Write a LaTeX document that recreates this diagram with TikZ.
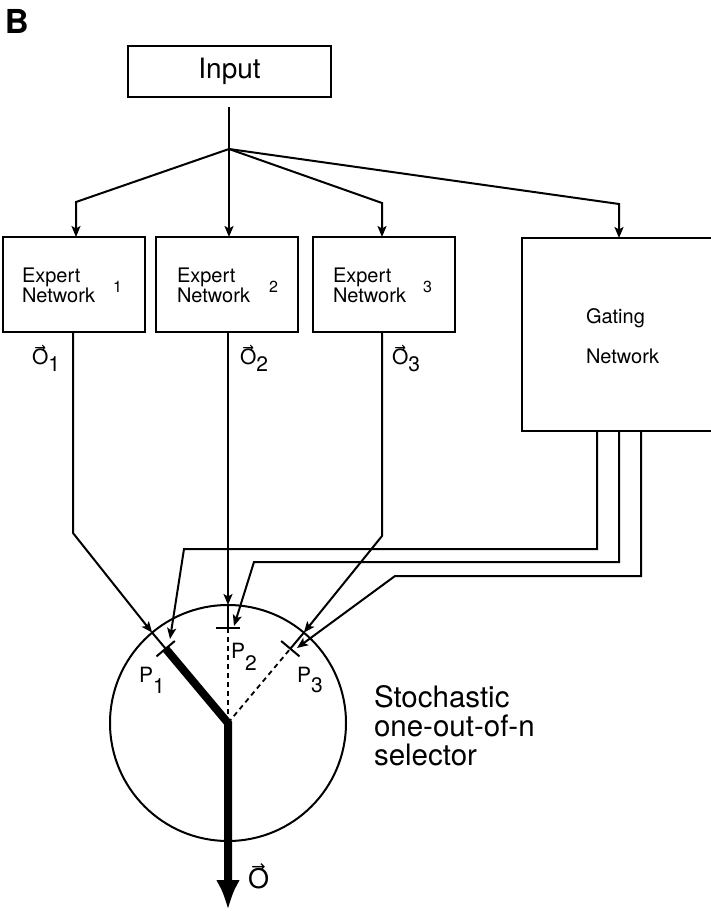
\documentclass[tikz,border=0pt]{standalone}
\usepackage{fontspec}
\setmainfont{TeX Gyre Heros}
\newfontfamily\arrowfont{DejaVu Sans}
\usetikzlibrary{arrows.meta,calc}
% vector O: #1 = size of the arrow glyph, #2 = kern between arrow and O
\newcommand{\vecO}[2]{\leavevmode\vbox{\offinterlineskip\halign{\hfil##\hfil\cr
  {\arrowfont\fontsize{#1}{#1}\selectfont\char"2192}\cr\noalign{\kern#2}O\cr}}}
\tikzset{
  box/.style={draw, line width=2.6pt, rectangle, inner sep=0pt, outer sep=0pt},
  wire/.style={line width=2pt, line join=miter},
  arr/.style={wire, -{Stealth[length=11pt,width=9pt,inset=2.5pt]}},
  lbl/.style={inner sep=0pt, outer sep=0pt, anchor=base west},
  txt/.style={inner sep=0pt, outer sep=0pt, anchor=north west, align=left, font=\fontsize{20pt}{20pt}\selectfont},
  numl/.style={lbl, font=\fontsize{16pt}{16pt}\selectfont},
  olbl/.style={lbl, font=\fontsize{21pt}{21pt}\selectfont},
  plbl/.style={lbl, font=\fontsize{21pt}{21pt}\selectfont},
  tickmark/.style={line width=2pt},
  dashline/.style={line width=1.8pt, dash pattern=on 5pt off 4pt},
}
\begin{document}
\begin{tikzpicture}[x=1pt,y=-1pt]
\useasboundingbox (0,0) rectangle (710,912);

% title letter
\node[lbl, font=\bfseries\fontsize{33pt}{33pt}\selectfont] (blabel) at (5,34) {B};

% boxes
\node[box, minimum width=203pt, minimum height=51pt, font=\fontsize{28pt}{28pt}\selectfont] (input) at (229.5,71.5) {Input};
\node[box, minimum width=142pt, minimum height=95pt] (e1) at (74,284.5) {};
\node[box, minimum width=142pt, minimum height=95pt] (e2) at (227,284.5) {};
\node[box, minimum width=142pt, minimum height=95pt] (e3) at (384,284.5) {};
\node[box, minimum width=218pt, minimum height=193pt] (gate) at (631,334.5) {};

% box texts
\node[txt] (e1t) at (22,267.6) {Expert\\Network};
\node[txt] (e2t) at (177,267.6) {Expert\\Network};
\node[txt] (e3t) at (333,267.6) {Expert\\Network};
\node[numl] (e1n) at (113,292) {1};
\node[numl] (e2n) at (269,292) {2};
\node[numl] (e3n) at (423,292) {3};
\node[txt] (gt) at (586,308.6) {Gating\\[20pt]Network};

% output labels
\node[olbl] (o1l) at (32,364) {\vecO{14pt}{-4pt}\raisebox{-7pt}{1}};
\node[olbl] (o2l) at (240,364) {\vecO{14pt}{-4pt}\raisebox{-7pt}{2}};
\node[olbl] (o3l) at (392,364) {\vecO{14pt}{-4pt}\raisebox{-7pt}{3}};

% selector
\node[draw, circle, line width=2pt, minimum size=236pt, inner sep=0pt, outer sep=0pt] (sel) at (228,723) {};

\node[plbl] (p1l) at (139,682) {P\raisebox{-11pt}{1}};
\node[plbl] (p2l) at (231,658) {P\raisebox{-12pt}{2}};
\node[plbl] (p3l) at (297,682) {P\raisebox{-10pt}{3}};

\node[inner sep=0pt, outer sep=0pt, anchor=north west, align=left, font=\fontsize{29.5pt}{29pt}\selectfont] (stxt) at (374,685) {Stochastic\\one-out-of-n\\selector};

\node[lbl, font=\fontsize{27pt}{27pt}\selectfont] (outl) at (248,888) {\vecO{17pt}{-5pt}};

% coordinates
\coordinate (stemtop) at (229,107);
\coordinate (br) at (229,149);
\coordinate (b1) at (76,202);
\coordinate (b3) at (382,203);
\coordinate (b4) at (619,204);

\coordinate (t1) at (165.65,648.69);
\coordinate (t1a) at (174.84,640.98);
\coordinate (t1b) at (156.46,656.40);
\coordinate (t2) at (228,628);
\coordinate (t2a) at (240,628);
\coordinate (t2b) at (216,628);
\coordinate (t3) at (290.35,648.69);
\coordinate (t3a) at (281.16,640.98);
\coordinate (t3b) at (299.54,656.40);
\coordinate (outtip) at (228,910);

\coordinate (o1b) at (73,533);
\coordinate (o3b) at (382,536);

\coordinate (g1) at (597,549);
\coordinate (g1b) at (184,549);
\coordinate (g1e) at (170,639);
\coordinate (g2) at (619,562);
\coordinate (g2b) at (254,562);
\coordinate (g2e) at (234,626);
\coordinate (g3) at (641,576);
\coordinate (g3b) at (395,576);
\coordinate (g3e) at (297,648);

% input fan-out
\draw[wire] (stemtop) -- (br);
\draw[arr] (br) -- (b1) -- (b1 |- e1.north);
\draw[arr] (br) -- (br |- e2.north);
\draw[arr] (br) -- (b3) -- (b3 |- e3.north);
\draw[arr] (br) -- (b4) -- (b4 |- gate.north);

% expert outputs
\draw[arr] (o1b |- e1.south) -- (o1b) -- (sel.130);
\draw[arr] (sel.90 |- e2.south) -- (sel.90);
\draw[arr] (o3b |- e3.south) -- (o3b) -- (sel.50);

% gating outputs
\draw[arr] (g1 |- gate.south) -- (g1) -- (g1b) -- (g1e);
\draw[arr] (g2 |- gate.south) -- (g2) -- (g2b) -- (g2e);
\draw[arr] (g3 |- gate.south) -- (g3) -- (g3b) -- (g3e);

% spokes and ticks
\draw[wire] (sel.130) -- (t1);
\draw[wire] (sel.90) -- (t2);
\draw[wire] (sel.50) -- (t3);
\draw[tickmark] (t1a) -- (t1b);
\draw[tickmark] (t2a) -- (t2b);
\draw[tickmark] (t3a) -- (t3b);
\draw[dashline] (sel.center) -- (t2);
\draw[dashline] (sel.center) -- (t3);
\draw[line width=8pt, line join=miter, -{Latex[length=30pt,width=24pt]}] (t1) -- (sel.center) -- (outtip);
\end{tikzpicture}
\end{document}
